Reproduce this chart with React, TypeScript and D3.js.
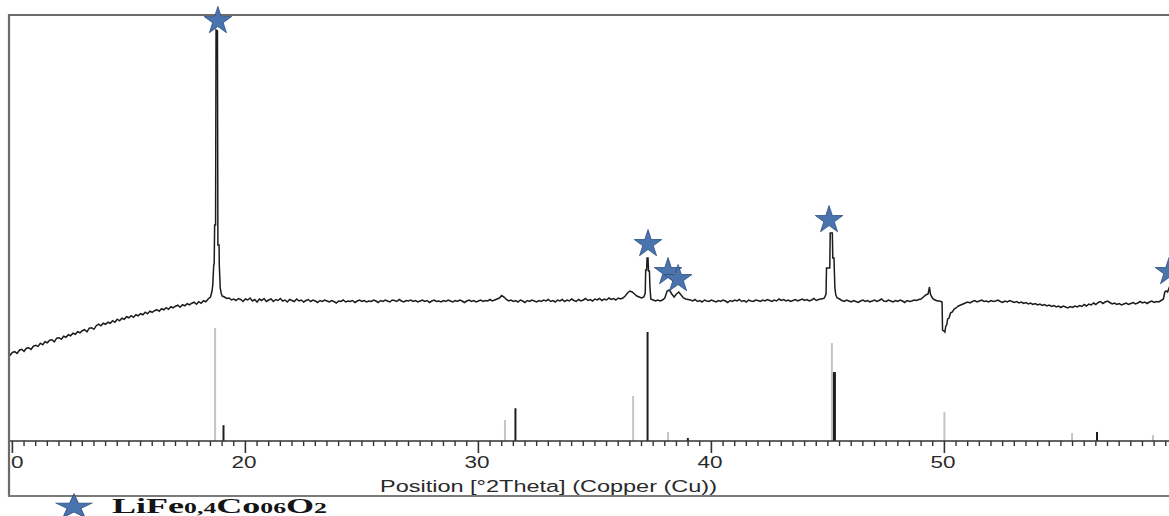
import React from "react";
import * as d3 from "d3";

const W = 1169;
const H = 516;

// ---- axis ----
const xMajorTicks = [10, 20, 30, 40, 50];
const xTickLabels = ["10", "20", "30", "40", "50"];
const xAxisTitle = "Position [°2Theta] (Copper (Cu))";

// ---- observed scan (counts), background segments at 0.1° step ----
const bgLowStart = 9.7;
const bgLow = [
  850, 872, 858, 886, 893, 876, 908, 917, 897, 928, 933, 916, 948, 957, 946, 978, 962, 993, 982, 1008,
  1013, 992, 1028, 1033, 1017, 1048, 1037, 1063, 1052, 1078, 1067, 1093, 1082, 1103, 1113, 1092, 1128, 1133, 1117, 1153,
  1168, 1152, 1178, 1167, 1188, 1177, 1203, 1187, 1218, 1202, 1228, 1217, 1243, 1232, 1253, 1237, 1263, 1252, 1273, 1262,
  1288, 1272, 1298, 1287, 1303, 1313, 1297, 1323, 1312, 1333, 1317, 1343, 1332, 1348, 1358, 1337, 1363, 1352, 1373, 1362,
  1378, 1388, 1367, 1393, 1377, 1403, 1392, 1420, 1440,
];

const bgMid1Start = 19.1;
const bgMid1 = [
  1440, 1425, 1430, 1410, 1420, 1405, 1425, 1415, 1395, 1420,
  1410, 1430, 1400, 1415, 1390, 1420, 1405, 1425, 1395, 1410,
  1420, 1395, 1415, 1405, 1425, 1400, 1410, 1390, 1415, 1405,
  1395, 1420, 1400, 1410, 1390, 1405, 1415, 1395, 1410, 1400,
  1385, 1405, 1395, 1410, 1400, 1390, 1405, 1395, 1380, 1400,
  1395, 1410, 1390, 1400, 1395, 1405, 1385, 1400, 1410, 1395,
  1405, 1390, 1400, 1395, 1410, 1400, 1385, 1405, 1395, 1410,
  1400, 1390, 1410, 1405, 1395, 1415, 1400, 1390, 1405, 1400,
  1410, 1395, 1405, 1390, 1400, 1410, 1395, 1405, 1385, 1400,
  1410, 1395, 1400, 1390, 1405, 1395, 1410, 1400, 1390, 1405,
  1395, 1410, 1400, 1385, 1400, 1410, 1395, 1405, 1390, 1400,
  1410, 1395, 1405, 1400, 1415, 1400, 1410, 1420, 1430, 1455,
  1440, 1415, 1400, 1410, 1395, 1405, 1390, 1410, 1400, 1385,
  1405, 1395, 1410, 1400, 1390, 1405, 1395, 1410, 1400, 1415,
  1395, 1405, 1390, 1410, 1400, 1415, 1395, 1410, 1400, 1420,
  1405, 1395, 1415, 1400, 1410, 1425, 1405, 1415, 1400, 1420,
  1410, 1425, 1405, 1420, 1410, 1430, 1415, 1425, 1410, 1430,
  1420,
];

const bgMid2Start = 39.1;
const bgMid2 = [
  1410, 1400, 1415, 1395, 1405, 1390, 1410, 1400, 1395, 1410,
  1400, 1390, 1405, 1395, 1410, 1400, 1385, 1405, 1395, 1410,
  1400, 1415, 1395, 1405, 1390, 1410, 1400, 1395, 1410, 1405,
  1395, 1410, 1400, 1415, 1405, 1395, 1410, 1400, 1420, 1405,
  1415, 1400, 1410, 1395, 1405, 1415, 1400, 1410, 1420, 1405,
  1415, 1400, 1410, 1425, 1405, 1415, 1420, 1425,
];

const bgMid3Start = 45.5;
const bgMid3 = [
  1420, 1405, 1395, 1410, 1400, 1390, 1405, 1395, 1385, 1400,
  1410, 1395, 1405, 1390, 1400, 1410, 1395, 1405, 1420, 1400,
  1395, 1410, 1400, 1390, 1405, 1395, 1410, 1400, 1385, 1405,
  1395, 1400, 1410, 1405, 1415,
];

const bgHighStart = 51.2;
const bgHigh = [
  1395, 1405, 1390, 1400, 1410, 1395, 1400, 1390, 1405, 1395,
  1400, 1410, 1395, 1385, 1400, 1390, 1405, 1395, 1385, 1395,
  1380, 1390, 1375, 1385, 1370, 1380, 1365, 1375, 1360, 1370,
  1355, 1365, 1350, 1360, 1345, 1355, 1340, 1350, 1335, 1350,
  1340, 1330, 1345, 1335, 1350, 1340, 1355, 1345, 1365, 1350,
  1370, 1360, 1380, 1365, 1385, 1395, 1375, 1390, 1400, 1385,
  1370, 1380, 1365, 1375, 1360, 1370, 1380, 1365, 1375, 1385,
  1370, 1380, 1395, 1380, 1390, 1375, 1390, 1400, 1385, 1395,
  1390, 1405,
];

// ---- peak regions [2theta, counts] ----
const peak18: [number, number][] = [
  [18.56, 1490], [18.6, 1560], [18.64, 1760], [18.66, 1770], [18.68, 2160], [18.72, 2160],
  [18.74, 4110], [18.8, 4100], [18.82, 1960], [18.87, 1960], [18.88, 1760], [18.92, 1530],
  [18.96, 1480], [19.0, 1450], [19.05, 1445],
];
const peak37: [number, number][] = [
  [36.2, 1430], [36.3, 1450], [36.4, 1480], [36.5, 1500], [36.6, 1490],
  [36.7, 1470], [36.8, 1450], [36.9, 1440], [37.0, 1430], [37.1, 1440],
  [37.16, 1480], [37.18, 1710], [37.22, 1710], [37.24, 1830], [37.28, 1830], [37.3, 1700],
  [37.34, 1700], [37.36, 1550], [37.4, 1420], [37.5, 1410], [37.6, 1400], [37.7, 1410],
  [37.8, 1400], [37.9, 1410], [38.0, 1430], [38.1, 1500], [38.2, 1510],
  [38.3, 1470], [38.4, 1440], [38.5, 1470], [38.6, 1490], [38.7, 1460],
  [38.8, 1430], [38.9, 1420], [39.0, 1415],
];
const peak45: [number, number][] = [
  [44.85, 1430], [44.92, 1470], [44.94, 1730], [44.98, 1730], [45.02, 1730],
  [45.08, 1730], [45.1, 2080], [45.14, 2080], [45.19, 2080], [45.21, 1830],
  [45.26, 1830], [45.3, 1530], [45.34, 1460], [45.4, 1430],
];
const dip50: [number, number][] = [
  [49.0, 1420], [49.1, 1440], [49.2, 1460], [49.3, 1470], [49.36, 1540],
  [49.4, 1470], [49.46, 1440], [49.52, 1420], [49.6, 1410], [49.7, 1400],
  [49.8, 1400], [49.9, 1390], [49.92, 1110], [49.98, 1100], [50.02, 1090],
  [50.06, 1150], [50.1, 1160], [50.14, 1220], [50.2, 1230], [50.26, 1280],
  [50.34, 1290], [50.42, 1320], [50.5, 1330], [50.6, 1350], [50.7, 1360],
  [50.8, 1370], [50.9, 1380], [51.0, 1390], [51.1, 1380],
];
const peak59: [number, number][] = [
  [59.4, 1420], [59.46, 1490], [59.52, 1500], [59.58, 1490], [59.64, 1530],
  [59.7, 1560], [59.8, 1620],
];

// ---- reference stick patterns (relative intensity) ----
const refGrayPos = [18.7, 31.14, 36.64, 38.14, 45.17, 50.0, 55.48, 58.95];
const refGrayInt = [100, 18.6, 39.8, 8, 86.7, 25.7, 7, 5.3];
const refBlackPos = [19.06, 31.59, 37.26, 38.99, 45.28, 56.55];
const refBlackInt = [14, 29, 96.5, 2.7, 61, 8];

// ---- star markers (LiFe0.4Co0.6O2) ----
const starPos = [18.82, 37.28, 38.14, 38.57, 45.05, 59.64];
const starCounts = [4220, 1990, 1710, 1640, 2230, 1710];

const legendParts = [
  { t: "LiFe", small: false },
  { t: "0,4", small: true },
  { t: "Co", small: false },
  { t: "06", small: true },
  { t: "O", small: false },
  { t: "2", small: true },
];

function seg(start: number, vals: number[]): [number, number][] {
  return vals.map((v, i) => [Math.round((start + i * 0.1) * 100) / 100, v]);
}

export default function App() {
  const x = d3.scaleLinear().domain([10, 60]).range([12.4, 1177.4]);
  const y = d3.scaleLinear().domain([0, 4260]).range([441, 15]);
  const yStick = d3.scaleLinear().domain([0, 100]).range([441, 328]);

  const scan: [number, number][] = [
    ...seg(bgLowStart, bgLow),
    ...peak18,
    ...seg(bgMid1Start, bgMid1),
    ...peak37,
    ...seg(bgMid2Start, bgMid2),
    ...peak45,
    ...seg(bgMid3Start, bgMid3),
    ...dip50,
    ...seg(bgHighStart, bgHigh),
    ...peak59,
  ].sort((a, b) => a[0] - b[0]);

  const line = d3
    .line<[number, number]>()
    .x((d) => x(d[0]))
    .y((d) => y(d[1]))
    .curve(d3.curveLinear);

  const minor = d3.range(100).map((i) => 10 + i * 0.5).filter((t) => !xMajorTicks.includes(t));

  const starPath = d3.symbol().type(d3.symbolStar).size(236)() as string;
  const legendStar = d3.symbol().type(d3.symbolStar).size(190)() as string;

  const font = "'Liberation Sans', Arial, sans-serif";

  return (
    <svg
      width={W}
      height={H}
      style={{ position: "absolute", left: 0, top: 0, background: "#fff" }}
    >
      <defs>
        <clipPath id="plotClip">
          <rect x={10} y={16} width={1200} height={480} />
        </clipPath>
        <clipPath id="labelClip">
          <rect x={10} y={440} width={1200} height={60} />
        </clipPath>
      </defs>
      <rect x={0} y={0} width={W} height={H} fill="#fff" />

      <g clipPath="url(#plotClip)">
        {/* reference sticks */}
        {refGrayPos.map((p, i) => (
          <line
            key={"g" + i}
            x1={x(p)}
            x2={x(p)}
            y1={yStick(0)}
            y2={yStick(refGrayInt[i])}
            stroke="#c4c4c4"
            strokeWidth={2}
          />
        ))}
        {refBlackPos.map((p, i) => (
          <line
            key={"b" + i}
            x1={x(p)}
            x2={x(p)}
            y1={yStick(0)}
            y2={yStick(refBlackInt[i])}
            stroke="#1e1e1e"
            strokeWidth={p > 45 && p < 46 ? 3 : 2}
          />
        ))}

        {/* observed scan */}
        <path
          d={line(scan) || ""}
          fill="none"
          stroke="#1c1c1c"
          strokeWidth={1.5}
          strokeLinejoin="miter"
        />

        {/* x axis */}
        <line x1={8} x2={W + 10} y1={441} y2={441} stroke="#333" strokeWidth={1.6} />
        {minor.map((t) => (
          <line key={"m" + t} x1={x(t)} x2={x(t)} y1={441} y2={446} stroke="#333" strokeWidth={1.4} />
        ))}
        {xMajorTicks.map((t) => (
          <line key={"M" + t} x1={x(t)} x2={x(t)} y1={441} y2={453} stroke="#333" strokeWidth={1.6} />
        ))}
      </g>

      <g clipPath="url(#labelClip)">
        {xMajorTicks.map((t, i) => (
          <text
            key={"l" + t}
            x={x(t) - 1.5}
            y={468}
            textAnchor="middle"
            fontFamily={font}
            fontSize={16}
            fill="#2a2a2a"
            textLength={25}
            lengthAdjust="spacingAndGlyphs"
          >
            {xTickLabels[i]}
          </text>
        ))}
      </g>
      <text
        x={548.5}
        y={492}
        textAnchor="middle"
        fontFamily={font}
        fontSize={16}
        fill="#2a2a2a"
        textLength={337}
        lengthAdjust="spacingAndGlyphs"
      >
        {xAxisTitle}
      </text>

      {/* frame */}
      <line x1={8} x2={W + 5} y1={15} y2={15} stroke="#6a6a6a" strokeWidth={2.2} />
      <line x1={9} x2={9} y1={14} y2={497} stroke="#6a6a6a" strokeWidth={2.2} />
      <line x1={8} x2={W + 5} y1={496} y2={496} stroke="#7a7a7a" strokeWidth={2} />

      {/* star markers */}
      {starPos.map((p, i) => (
        <path
          key={"s" + i}
          d={starPath}
          transform={`translate(${x(p)},${y(starCounts[i]) + 2})`}
          fill="#4a74ad"
          stroke="#2e4f80"
          strokeWidth={0.8}
        />
      ))}

      {/* legend */}
      <path
        d={legendStar}
        transform="translate(74,507) scale(1.45,1)"
        fill="#4a74ad"
        stroke="#2e4f80"
        strokeWidth={0.7}
      />
      <text
        x={112}
        y={513}
        fontFamily="'Liberation Serif', 'Times New Roman', serif"
        fontWeight="bold"
        fill="#141414"
        textLength={215}
        lengthAdjust="spacingAndGlyphs"
      >
        {legendParts.map((p, i) => (
          <tspan key={i} fontSize={p.small ? 15 : 21}>
            {p.t}
          </tspan>
        ))}
      </text>
    </svg>
  );
}
